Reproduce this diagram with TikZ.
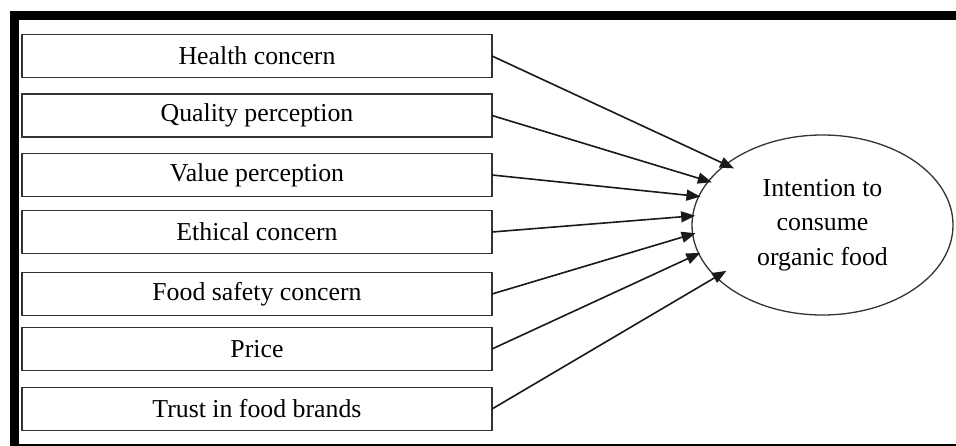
\documentclass[tikz,border=0pt]{standalone}
\usepackage{fontspec}
\setmainfont{Liberation Serif}
\usepackage{xcolor}
\usepackage{tikz}
\usetikzlibrary{shapes.geometric,arrows.meta}

\begin{document}
\begin{tikzpicture}[x=1pt,y=-1pt,
    box/.style={draw=black!80,line width=1.6pt,minimum width=470pt,minimum height=43pt,inner sep=0pt,outer sep=0pt},
    arr/.style={draw=black!90,line width=1.6pt,-{Triangle[length=14pt,width=11pt]}},
    font=\fontsize{25.8}{34.5}\selectfont]
    \useasboundingbox (0,0) rectangle (956,446);
    \fill[white] (0,0) rectangle (956,446);
    \draw[line width=9pt] (14,15.5) rectangle (962,448);
    \node[box] (1) at (257,56) {Health concern};
    \node[box] (2) at (257,115.5) {Quality perception};
    \node[box] (3) at (257,175) {Value perception};
    \node[box] (4) at (257,232) {Ethical concern};
    \node[box] (5) at (257,294) {Food safety concern};
    \node[box] (6) at (257,349) {Price};
    \node[box] (7) at (257,409) {Trust in food brands};
    \node[draw=black!80,line width=1.3pt,ellipse,minimum width=261pt,minimum height=180pt,inner sep=0pt,outer sep=0pt,align=center] (io) at (822.5,225) {Intention to\\consume\\organic food};
    \draw[arr,shorten >=-9pt] (1.east) to (io.148);
    \draw[arr,shorten >=-3.5pt] (2.east) to (io.159);
    \draw[arr,shorten >=-1.7pt] (3.east) to (io.167);
    \draw[arr,shorten >=-2.5pt] (4.east) to (io.176.5);
    \draw[arr,shorten >=-3pt] (5.east) to (io.184.8);
    \draw[arr,shorten >=-1.7pt] (6.east) to (io.193);
    \draw[arr,shorten >=-12pt] (7.east) to (io.206);
\end{tikzpicture}
\end{document}
